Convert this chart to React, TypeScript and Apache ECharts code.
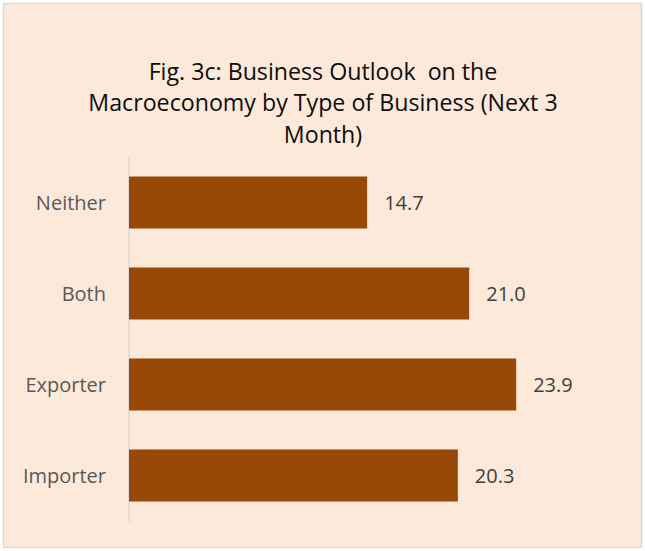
import React, { useEffect, useRef } from "react";
import * as echarts from "echarts";

const categories = ["Importer", "Exporter", "Both", "Neither"];
const values = [20.3, 23.9, 21.0, 14.7];
const titleText = "Fig. 3c: Business Outlook  on the\nMacroeconomy by Type of Business (Next 3\nMonth)";

export default function App() {
  const ref = useRef<HTMLDivElement>(null);
  useEffect(() => {
    const chart = echarts.init(ref.current!, null, { renderer: "svg" });
    chart.setOption({
      animation: false,
      graphic: [
        {
          type: "rect",
          z: -10,
          silent: true,
          shape: { x: 3.5, y: 3.5, width: 638, height: 544 },
          style: { fill: "#FDE9D9", stroke: "#D9D9D9", lineWidth: 1.5 },
        },
        {
          type: "text",
          x: 323,
          y: 55,
          silent: true,
          style: {
            text: titleText,
            textAlign: "center",
            textVerticalAlign: "top",
            fontFamily: "Open Sans",
            fontSize: 23.2,
            lineHeight: 31.6,
            fill: "#0d0d0d",
          },
        },
      ],
      grid: { left: 129, right: 30, top: 157, bottom: 30, containLabel: false },
      xAxis: {
        type: "value",
        min: 0,
        max: 30,
        show: false,
        splitLine: { show: false },
      },
      yAxis: {
        type: "category",
        data: categories,
        axisLine: { show: true, lineStyle: { color: "#D9D9D9", width: 1.5 } },
        axisTick: { show: false },
        axisLabel: {
          margin: 23,
          fontFamily: "Open Sans",
          fontSize: 20,
          color: "#595959",
        },
      },
      series: [
        {
          type: "bar",
          data: values,
          barCategoryGap: "43%",
          itemStyle: { color: "#984807" },
          label: {
            show: true,
            position: "right",
            distance: 17,
            formatter: (p: any) => Number(p.value).toFixed(1),
            fontFamily: "Open Sans",
            fontSize: 20,
            color: "#404040",
          },
        },
      ],
    });
    return () => chart.dispose();
  }, []);
  return (
    <div
      ref={ref}
      style={{ position: "fixed", left: 0, top: 0, width: 645, height: 551, background: "#fff" }}
    />
  );
}
